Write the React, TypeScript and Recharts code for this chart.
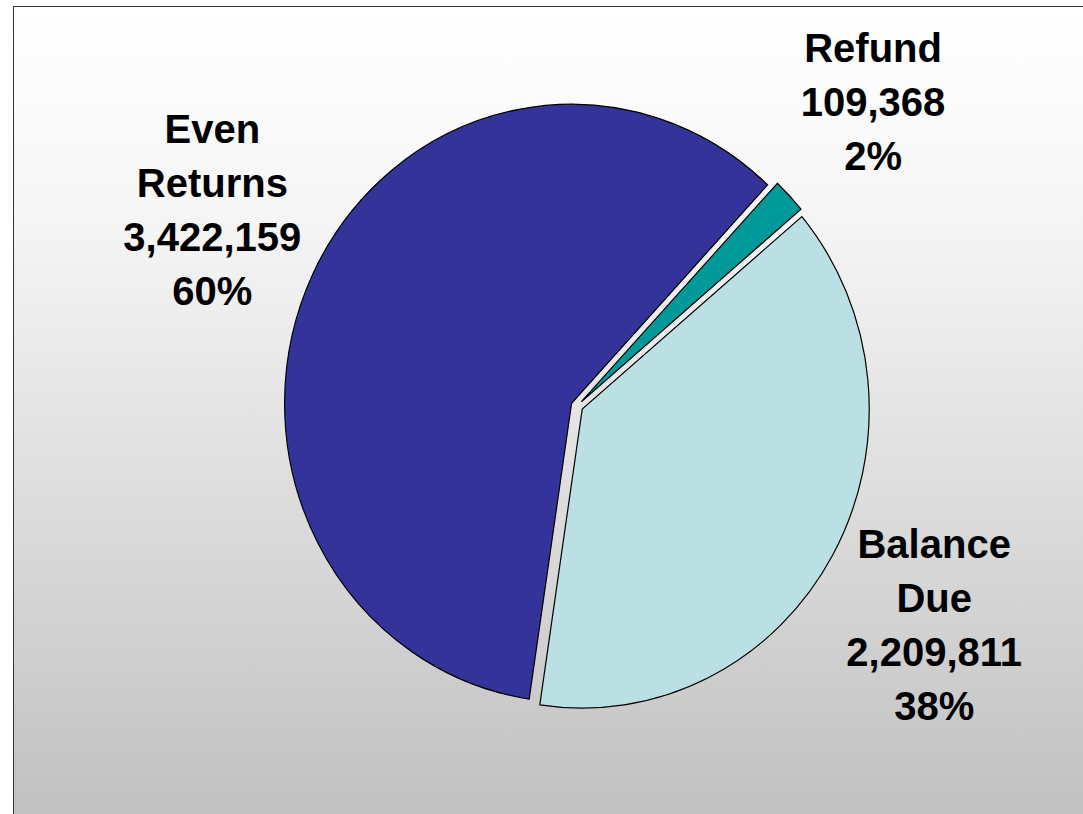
import React from "react";
import { PieChart, Pie, Cell, Sector } from "recharts";

const categories = ["Even Returns", "Refund", "Balance Due"];
const returnCounts = [3422159, 109368, 2209811];

const sliceColors = ["#333399", "#009999", "#BBE0E3"];
// small hand nudges so the labels sit where the original put them
const labelNudge = [
  [9, -15],
  [-5, -18],
  [-5, 16],
];

const chartData = categories.map((name, i) => ({ name, value: returnCounts[i] }));

const RAD = Math.PI / 180;
const EXPLODE = 6;
const Y_STRETCH = 1.042;
const LINE_H = 54;

function ExplodedSlice(props: any) {
  const { cx, cy, innerRadius, outerRadius, startAngle, endAngle, midAngle, index, name, value, percent } = props;
  const dx = EXPLODE * Math.cos(-midAngle * RAD);
  const dy = EXPLODE * Math.sin(-midAngle * RAD);

  const labelR = 415;
  const lx = cx + labelR * Math.cos(-midAngle * RAD) + labelNudge[index][0];
  const ly = cy + labelR * Math.sin(-midAngle * RAD) + labelNudge[index][1];
  const lines = [...String(name).split(" "), value.toLocaleString("en-US"), `${Math.round(percent * 100)}%`];
  const firstBase = ly + 14 - ((lines.length - 1) * LINE_H) / 2;

  return (
    <g>
      <g transform={`translate(0 ${cy}) scale(1 ${Y_STRETCH}) translate(0 ${-cy})`}>
        <Sector
          cx={cx + dx}
          cy={cy + dy}
          innerRadius={innerRadius}
          outerRadius={outerRadius}
          startAngle={startAngle}
          endAngle={endAngle}
          fill={sliceColors[index]}
          stroke="#000"
          strokeWidth={1.2}
        />
      </g>
      <text
        x={lx}
        y={firstBase}
        textAnchor="middle"
        fontFamily="'Liberation Sans', Arial, sans-serif"
        fontWeight="bold"
        fontSize={40}
        fill="#000"
      >
        {lines.map((t, i) => (
          <tspan key={i} x={lx} dy={i === 0 ? 0 : LINE_H}>
            {t}
          </tspan>
        ))}
      </text>
    </g>
  );
}

export default function App() {
  return (
    <div style={{ position: "relative", width: 1083, height: 814, overflow: "hidden" }}>
      <style>{`body { margin: 0; }`}</style>
      <div
        style={{
          position: "absolute",
          left: 13,
          top: 6,
          width: 1100,
          height: 820,
          boxSizing: "border-box",
          border: "1.5px solid #333",
          background: "linear-gradient(#ffffff 0%, #f6f6f6 25%, #c0c0c0 100%)",
        }}
      />
      <div style={{ position: "absolute", left: 0, top: 0 }}>
        <PieChart width={1083} height={814} margin={{ top: 0, right: 0, bottom: 0, left: 0 }}>
          <Pie
            data={chartData}
            dataKey="value"
            nameKey="name"
            cx={577}
            cy={406}
            innerRadius={0}
            outerRadius={287}
            startAngle={-98.5}
            endAngle={-458.5}
            stroke="none"
            labelLine={false}
            label={ExplodedSlice}
            isAnimationActive={false}
          >
            {chartData.map((entry, index) => (
              <Cell key={`cell-${index}`} fill="none" stroke="none" />
            ))}
          </Pie>
        </PieChart>
      </div>
    </div>
  );
}
